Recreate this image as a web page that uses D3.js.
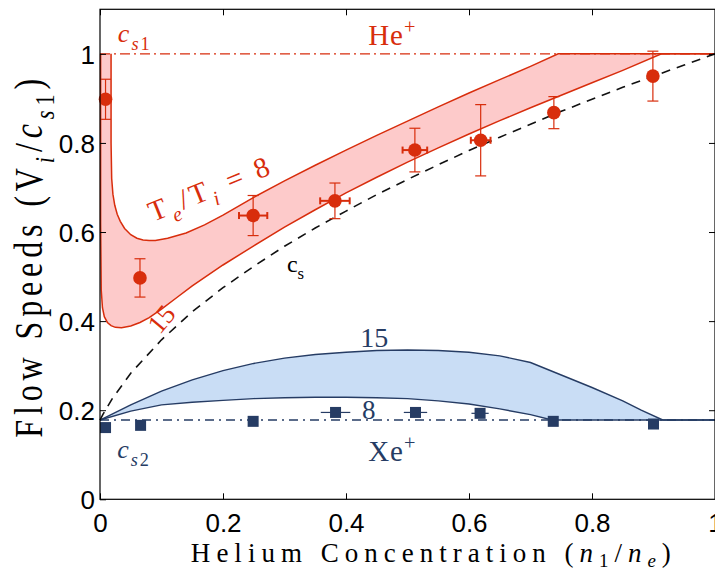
<!DOCTYPE html>
<html>
<head>
<meta charset="utf-8">
<script src="https://cdn.jsdelivr.net/npm/d3@7"></script>
<style>
body { margin: 0; background: #fff; }
svg { display: block; }
text { font-family: "Liberation Serif", "Times New Roman", serif; }
.axis text { font-family: "Liberation Sans", Arial, sans-serif; font-size: 26px; fill: #000; }
</style>
</head>
<body>
<div id="plot"></div>
<script>
// ticks
const xTicks = [0, 0.2, 0.4, 0.6, 0.8, 1];
const yTicks = [0, 0.2, 0.4, 0.6, 0.8, 1];

// single species sound speeds (normalised to c_s1)
const cs1 = 1.0;
const cs2 = 0.178;

// He+ model, Te/Ti = 8 (upper edge of band)
const he8 = [[0.018,1.0],[0.018,0.80],[0.019,0.72],[0.021,0.685],[0.024,0.66],[0.028,0.64],[0.033,0.624],[0.04,0.608],[0.05,0.594],[0.06,0.586],[0.07,0.582],[0.08,0.581],[0.09,0.581],[0.11,0.586],[0.14,0.598],[0.17,0.616],[0.2,0.638],[0.25,0.678],[0.3,0.715],[0.35,0.75],[0.4,0.784],[0.45,0.817],[0.5,0.849],[0.55,0.881],[0.6,0.912],[0.65,0.942],[0.7,0.972],[0.745,1.0],[1.0,1.0]];
// He+ model, Te/Ti = 15 (lower edge of band)
const he15 = [[0.001,1.0],[0.001,0.62],[0.002,0.47],[0.004,0.43],[0.007,0.41],[0.012,0.397],[0.018,0.39],[0.025,0.386],[0.035,0.385],[0.05,0.389],[0.065,0.397],[0.08,0.408],[0.1,0.427],[0.125,0.453],[0.15,0.479],[0.2,0.526],[0.25,0.569],[0.3,0.611],[0.35,0.65],[0.4,0.688],[0.45,0.723],[0.5,0.757],[0.55,0.789],[0.6,0.82],[0.65,0.85],[0.7,0.879],[0.75,0.907],[0.8,0.935],[0.85,0.963],[0.913,1.0],[1.0,1.0]];

// Xe+ model, Te/Ti = 15 (upper) and 8 (lower)
const xe15 = [[0,0.178],[0.05,0.212],[0.1,0.243],[0.15,0.268],[0.2,0.289],[0.25,0.305],[0.3,0.317],[0.35,0.325],[0.4,0.33],[0.45,0.334],[0.5,0.335],[0.55,0.334],[0.6,0.33],[0.65,0.322],[0.7,0.307],[0.75,0.279],[0.8,0.251],[0.85,0.221],[0.88,0.2],[0.915,0.178],[1.0,0.178]];
const xe8 = [[0,0.178],[0.05,0.198],[0.1,0.212],[0.15,0.218],[0.2,0.222],[0.25,0.226],[0.3,0.228],[0.35,0.229],[0.4,0.229],[0.45,0.228],[0.5,0.226],[0.55,0.221],[0.6,0.214],[0.65,0.203],[0.7,0.19],[0.735,0.178],[1.0,0.178]];

// system sound speed c_s
const csMix = [[0,0.178],[0.005,0.191],[0.01,0.203],[0.02,0.226],[0.05,0.283],[0.1,0.358],[0.15,0.421],[0.2,0.475],[0.25,0.523],[0.3,0.568],[0.35,0.609],[0.4,0.647],[0.45,0.684],[0.5,0.718],[0.55,0.751],[0.6,0.783],[0.65,0.813],[0.7,0.842],[0.75,0.871],[0.8,0.898],[0.85,0.925],[0.9,0.95],[0.95,0.975],[1.0,1.0]];

// measured He+ flow speeds
const heX = [0.009, 0.065, 0.249, 0.382, 0.512, 0.619, 0.738, 0.899];
const heV = [0.898, 0.497, 0.637, 0.670, 0.784, 0.806, 0.868, 0.950];
const heErr = [0.045, 0.043, 0.045, 0.040, 0.049, 0.080, 0.036, 0.056];
const heXErr = [0, 0, 0.023, 0.024, 0.020, 0.016, 0, 0];

// measured Xe+ flow speeds
const xeX = [0.009, 0.066, 0.249, 0.383, 0.513, 0.618, 0.737, 0.900];
const xeV = [0.161, 0.166, 0.175, 0.195, 0.195, 0.193, 0.175, 0.169];
const xeXErr = [0, 0, 0, 0.024, 0.019, 0.014, 0, 0];

const red = "#d82d0c", pink = "#fdcaca", blue = "#263c64", lightBlue = "#c9ddf5";

const margin = {top: 9.3, right: 0, bottom: 72.7, left: 100},
    width = 715 - margin.left - margin.right,
    height = 572 - margin.top - margin.bottom;

const svg = d3.select("#plot")
    .append("svg")
    .attr("width", 715)
    .attr("height", 572)
    .append("g")
    .attr("transform", "translate(" + margin.left + "," + margin.top + ")");

const x = d3.scaleLinear().domain([0, 1]).range([0, width]);
const y = d3.scaleLinear().domain([0, 1.1]).range([height, 0]);

const line = d3.line().x(d => x(d[0])).y(d => y(d[1]));

// bands
svg.append("path")
    .attr("d", line(he8.concat(he15.slice().reverse())) + "Z")
    .attr("fill", pink).attr("stroke", "none");
svg.append("path")
    .attr("d", line(xe15.concat(xe8.slice().reverse())) + "Z")
    .attr("fill", lightBlue).attr("stroke", "none");

// dash-dot single species lines
svg.append("path")
    .attr("d", line([[0, cs1], [1, cs1]]))
    .attr("stroke", red).attr("stroke-width", 1.4).attr("fill", "none")
    .attr("stroke-dasharray", "10,4,2,4");
svg.append("path")
    .attr("d", line([[0, cs2], [1, cs2]]))
    .attr("stroke", blue).attr("stroke-width", 1.4).attr("fill", "none")
    .attr("stroke-dasharray", "9,5,2,5");

// model curves
[he8, he15].forEach(c => {
    svg.append("path").attr("d", line(c))
        .attr("fill", "none").attr("stroke", red).attr("stroke-width", 1.5);
});
[xe15, xe8].forEach(c => {
    svg.append("path").attr("d", line(c))
        .attr("fill", "none").attr("stroke", blue).attr("stroke-width", 1.4);
});

// c_s dashed
svg.append("path").attr("d", line(csMix))
    .attr("fill", "none").attr("stroke", "#111").attr("stroke-width", 1.6)
    .attr("stroke-dasharray", "9,7");

// He+ error bars
const heG = svg.append("g").attr("stroke", red).attr("fill", "none");
heX.forEach((xv, i) => {
    let cx = x(xv), top = y(heV[i] + heErr[i]), bot = y(heV[i] - heErr[i]);
    heG.append("line").attr("x1", cx).attr("x2", cx).attr("y1", top).attr("y2", bot).attr("stroke-width", 1.2);
    heG.append("line").attr("x1", cx - 5.5).attr("x2", cx + 5.5).attr("y1", top).attr("y2", top).attr("stroke-width", 1.2);
    heG.append("line").attr("x1", cx - 5.5).attr("x2", cx + 5.5).attr("y1", bot).attr("y2", bot).attr("stroke-width", 1.2);
    if (heXErr[i] > 0) {
        let l = x(xv - heXErr[i]), r = x(xv + heXErr[i]), cy = y(heV[i]);
        heG.append("line").attr("x1", l).attr("x2", r).attr("y1", cy).attr("y2", cy).attr("stroke-width", 2);
        heG.append("line").attr("x1", l).attr("x2", l).attr("y1", cy - 3.5).attr("y2", cy + 3.5).attr("stroke-width", 2);
        heG.append("line").attr("x1", r).attr("x2", r).attr("y1", cy - 3.5).attr("y2", cy + 3.5).attr("stroke-width", 2);
    }
});
svg.append("g").selectAll("circle")
    .data(heX).enter().append("circle")
    .attr("cx", d => x(d))
    .attr("cy", (d, i) => y(heV[i]))
    .attr("r", 6.8)
    .attr("fill", red);

// Xe+ error bars and squares
const xeG = svg.append("g").attr("stroke", blue).attr("stroke-width", 1.2);
xeX.forEach((xv, i) => {
    if (xeXErr[i] > 0) {
        xeG.append("line").attr("x1", x(xv - xeXErr[i])).attr("x2", x(xv + xeXErr[i]))
            .attr("y1", y(xeV[i])).attr("y2", y(xeV[i]));
    }
});
svg.append("g").selectAll("rect")
    .data(xeX).enter().append("rect")
    .attr("x", d => x(d) - 5.5)
    .attr("y", (d, i) => y(xeV[i]) - 5.5)
    .attr("width", 11).attr("height", 11)
    .attr("fill", blue);

// axes (ticks inward)
const fmt = d => String(+d.toFixed(1));
svg.append("g").attr("class", "axis")
    .attr("transform", "translate(0," + height + ")")
    .call(d3.axisBottom(x).tickValues(xTicks).tickSize(-6).tickPadding(14).tickFormat(fmt))
    .call(g => g.select(".domain").remove());
svg.append("g").attr("class", "axis")
    .call(d3.axisLeft(y).tickValues(yTicks).tickSize(-6).tickPadding(5).tickFormat(fmt))
    .call(g => g.select(".domain").remove())
    .selectAll("text").attr("dy", "0.36em");
svg.append("g").attr("class", "axis")
    .call(d3.axisTop(x).tickValues(xTicks).tickSize(-6).tickFormat(""))
    .call(g => g.select(".domain").remove());
svg.append("g").attr("class", "axis")
    .attr("transform", "translate(" + width + ",0)")
    .call(d3.axisRight(y).tickValues(yTicks.slice(1)).tickSize(-6).tickFormat(""))
    .call(g => g.select(".domain").remove());
svg.selectAll(".axis .tick line").attr("stroke", "#000");

svg.append("rect")
    .attr("x", 0).attr("y", 0).attr("width", width).attr("height", height)
    .attr("fill", "none").attr("stroke", "#000").attr("stroke-width", 1.2);

// annotation helper: parts = [{t, it, sub, sup}]
function label(px, py, parts, opts) {
    let t = svg.append("text")
        .attr("transform", "translate(" + px + "," + py + ") rotate(" + (opts.rotate || 0) + ")" + (opts.scale ? " scale(" + opts.scale + ")" : ""))
        .attr("font-size", opts.size)
        .attr("fill", opts.color || "#000");
    if (opts.anchor) t.attr("text-anchor", opts.anchor);
    if (opts.spacing) t.attr("letter-spacing", opts.spacing);
    let shift = 0, subShift = opts.subShift || 0.3;
    parts.forEach(p => {
        let s = t.append("tspan").text(p.t);
        let want = p.sub ? opts.size * subShift : (p.sup ? -opts.size * 0.38 : 0);
        if (want !== shift) { s.attr("dy", want - shift); shift = want; }
        if (p.sub || p.sup) s.attr("font-size", opts.size * 0.7);
        if (p.it) s.attr("font-style", "italic");
    });
    if (opts.len) t.attr("textLength", opts.len).attr("lengthAdjust", "spacing");
    return t;
}

label(x(0.029), y(1.027), [{t: "c", it: 1}, {t: "s", it: 1, sub: 1}, {t: "1", sub: 1}],
    {size: 26, color: red, spacing: 2});
label(x(0.436), y(1.02), [{t: "He"}, {t: "+", sup: 1}], {size: 29, color: red, spacing: 1});
label(x(0.086), y(0.6225), [{t: "T"}, {t: "e", it: 1, sub: 1}, {t: "/T"}, {t: "i", it: 1, sub: 1}, {t: " = 8"}],
    {size: 29, color: red, rotate: -22, len: 128});
label(x(0.097), y(0.368), [{t: "15"}], {size: 27, color: red, rotate: -50});
label(x(0.304), y(0.51), [{t: "c"}, {t: "s", sub: 1}], {size: 24, color: "#000"});
label(x(0.423), y(0.342), [{t: "15"}], {size: 28, color: blue});
label(x(0.426), y(0.18), [{t: "8"}], {size: 27, color: blue});
label(x(0.436), y(0.086), [{t: "Xe"}, {t: "+", sup: 1}], {size: 29, color: blue, spacing: 1});
label(x(0.028), y(0.093), [{t: "c", it: 1}, {t: "s", it: 1, sub: 1}, {t: "2", sub: 1}],
    {size: 26, color: blue, spacing: 2});

// axis titles
label(x(0.538), 552.5, [{t: "Helium Concentration ("}, {t: "n", it: 1}, {t: "1", sub: 1}, {t: "/"}, {t: "n", it: 1}, {t: "e", it: 1, sub: 1}, {t: ")"}],
    {size: 27, anchor: "middle", len: 480, subShift: 0.2});
label(-58, y(0.541), [{t: "Flow Speeds (V"}, {t: "i", it: 1, sub: 1}, {t: "/"}, {t: "c", it: 1}, {t: "s", it: 1, sub: 1}, {t: "1", sub: 1}, {t: ")"}],
    {size: 32, anchor: "middle", rotate: -90, scale: "1,1.25", len: 359});
</script>
</body>
</html>
